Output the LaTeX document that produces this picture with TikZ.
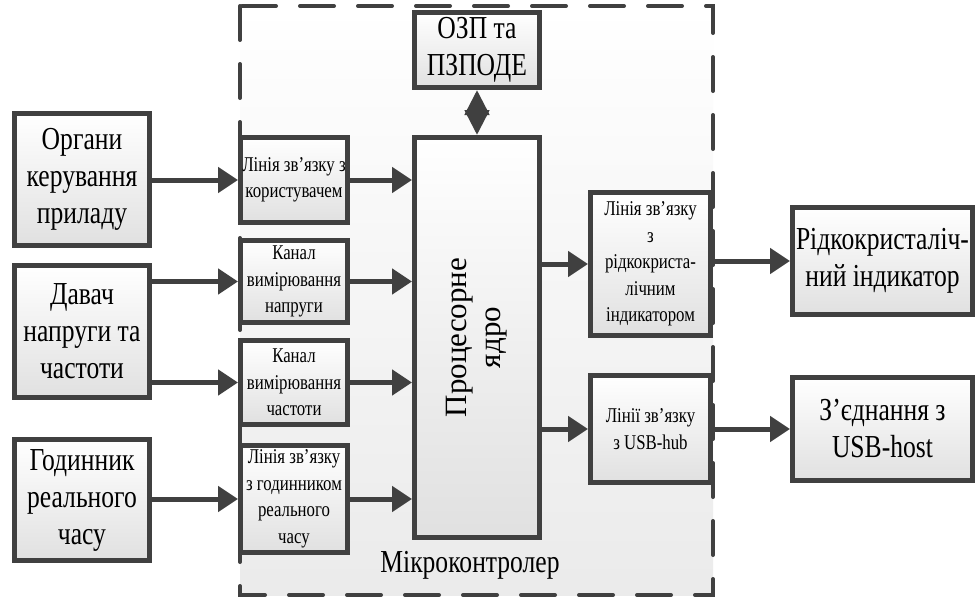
\documentclass[tikz,border=0pt]{standalone}
\usepackage{fontspec}
\setmainfont{Liberation Serif}[FakeStretch=0.8]
\newfontfamily\wideserif{Liberation Serif}
\usetikzlibrary{arrows.meta, shadows}
\definecolor{linegray}{HTML}{404040}

\begin{document}
\begin{tikzpicture}[x=1pt,y=-1pt,
	box/.style={draw=linegray,line width=5pt,top color=white,bottom color=black!12,align=center,inner sep=0pt,drop shadow={shadow xshift=2pt,shadow yshift=-2pt,opacity=.2}},
	bigbox/.style={box,font=\fontsize{32}{37}\selectfont},
	smallbox/.style={box,font=\fontsize{21}{26.5}\selectfont},
	arr/.style={draw=linegray,line width=5pt,-{Triangle[length=20pt,width=25pt]}},
	dblarr/.style={draw=linegray,line width=5pt,{Triangle[length=25pt,width=24pt]}-{Triangle[length=25pt,width=24pt]}}]
	\useasboundingbox[fill=white] (0,0) rectangle (980,597);
	\coordinate (mcunw) at (240,6);
	\coordinate (mcuse) at (713,595);
	\draw[draw=linegray,line width=4pt,dash pattern=on 34pt off 24pt,line cap=round,top color=white,bottom color=black!8] (mcunw) rectangle (mcuse);
	\node (mcu) at (470,565) {\fontsize{32}{37}\selectfont Мікроконтролер};
	\node[bigbox,minimum width=135,minimum height=132] (org) at (82,179.5) {Органи\\керування\\приладу};
	\node[bigbox,minimum width=135,minimum height=132] (dav) at (82,331.5) {Давач\\напруги та\\частоти};
	\node[bigbox,minimum width=135,minimum height=121] (god) at (82,500) {Годинник\\реального\\часу};
	\node[smallbox,minimum width=107,minimum height=85] (lkor) at (294,180) {Лінія зв’язку з\\користувачем};
	\node[smallbox,minimum width=107,minimum height=82] (kan1) at (294,281.5) {Канал\\вимірювання\\напруги};
	\node[smallbox,minimum width=107,minimum height=84] (kan2) at (294,382.5) {Канал\\вимірювання\\частоти};
	\node[smallbox,minimum width=107,minimum height=107] (lgod) at (294,499) {Лінія зв’язку\\з годинником\\реального\\часу};
	\node[bigbox,minimum width=125,minimum height=75] (ram) at (477,50) {ОЗП та\\ПЗПОДЕ};
	\node[bigbox,minimum width=125,minimum height=400] (cpu) at (477,337.5) {\rotatebox{90}{\wideserif\fontsize{31}{34}\selectfont\begin{tabular}{@{}c@{}}Процесорне\\ядро\end{tabular}}};
	\node[smallbox,minimum width=120,minimum height=143] (llcd) at (650.5,264) {Лінія зв’язку\\з\\рідкокриста-\\лічним\\індикатором};
	\node[smallbox,minimum width=120,minimum height=107] (lusb) at (650.5,429) {Лінії зв’язку\\з USB-hub};
	\node[bigbox,minimum width=180,minimum height=107] (lcd) at (882.5,261) {Рідкокристаліч-\\ний індикатор};
	\node[bigbox,minimum width=180,minimum height=103] (host) at (882.5,429) {З’єднання з\\USB-host};
	\draw[arr] (org.east |- lkor.west) -- (lkor.west);
	\draw[arr] (dav.east |- kan1.west) -- (kan1.west);
	\draw[arr] (dav.east |- kan2.west) -- (kan2.west);
	\draw[arr] (god.east |- lgod.west) -- (lgod.west);
	\draw[arr] (lkor.east) -- (lkor.east -| cpu.west);
	\draw[arr] (kan1.east) -- (kan1.east -| cpu.west);
	\draw[arr] (kan2.east) -- (kan2.east -| cpu.west);
	\draw[arr] (lgod.east) -- (lgod.east -| cpu.west);
	\draw[arr] (cpu.east |- llcd.west) -- (llcd.west);
	\draw[arr] (cpu.east |- lusb.west) -- (lusb.west);
	\draw[arr] (llcd.east |- lcd.west) -- (lcd.west);
	\draw[arr] (lusb.east) -- (host.west);
	\draw[dblarr] (ram.south) -- (cpu.north);
\end{tikzpicture}
\end{document}
